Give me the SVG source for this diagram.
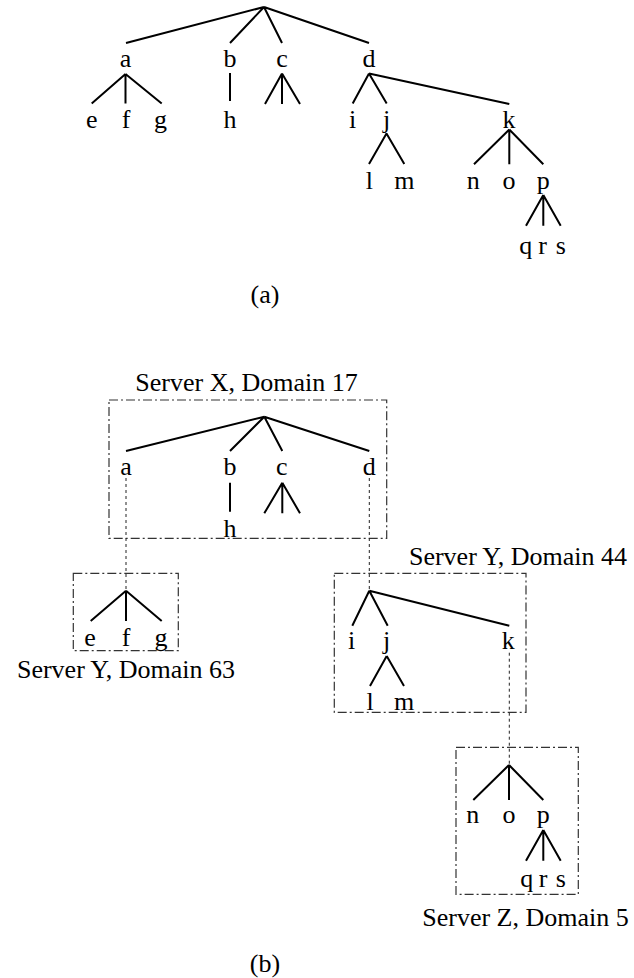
<svg xmlns="http://www.w3.org/2000/svg" width="634" height="978" viewBox="0 0 634 978">
<style>
text{font-family:"Liberation Serif","Times New Roman",serif;font-size:26px;fill:#000;text-anchor:middle}
.e{stroke:#000;stroke-width:2;fill:none;stroke-linecap:butt}
.dot{stroke:#222;stroke-width:1;fill:none;stroke-dasharray:3 3}
.box{stroke:#333;stroke-width:1.2;fill:none;stroke-dasharray:9 3 2 3}
</style>
<rect width="634" height="978" fill="#fff"/>
<!-- Tree (a) -->
<g id="connectors-a">
<path class="e" d="M264,7L126,43M264,7L230,43M264,7L282,43M264,7L369,43"/>
<path class="e" d="M125.5,74L91.7,103.5M125.5,74L125.5,103.5M125.5,74L161.7,103.5"/>
<path class="e" d="M230,73L230,101"/>
<path class="e" d="M282,73.5L265,104M282,73.5L282,104M282,73.5L300,104"/>
<path class="e" d="M369,73.5L352.7,103.5M369,73.5L386.7,103.5M369,73.5L509.3,104"/>
<path class="e" d="M386.5,133.5L369,164M386.5,133.5L404.3,164"/>
<path class="e" d="M509.3,129.5L474,164.3M509.3,129.5L509.3,164.3M509.3,129.5L543.3,164.3"/>
<path class="e" d="M543.3,195L526,225.7M543.3,195L543.3,225.7M543.3,195L560.7,225.7"/>
</g>
<g id="a-a"><text x="125.5" y="67">a</text></g>
<g id="a-b"><text x="230" y="67">b</text></g>
<g id="a-c"><text x="282" y="67">c</text></g>
<g id="a-d"><text x="369" y="67">d</text></g>
<g id="a-e"><text x="91.7" y="128">e</text></g>
<g id="a-f"><text x="126" y="128">f</text></g>
<g id="a-g"><text x="160.5" y="128">g</text></g>
<g id="a-h"><text x="230" y="128">h</text></g>
<g id="a-i"><text x="352.5" y="128">i</text></g>
<g id="a-j"><text x="386.7" y="128">j</text></g>
<g id="a-k"><text x="509" y="128">k</text></g>
<g id="a-l"><text x="369.3" y="189">l</text></g>
<g id="a-m"><text x="404.3" y="189">m</text></g>
<g id="a-n"><text x="473.3" y="189">n</text></g>
<g id="a-o"><text x="509" y="189">o</text></g>
<g id="a-p"><text x="543.3" y="189">p</text></g>
<g id="a-q"><text x="525.7" y="253.5">q</text></g>
<g id="a-r"><text x="542.7" y="253.5">r</text></g>
<g id="a-s"><text x="560.7" y="253.5">s</text></g>
<g id="caption-a"><text x="265" y="303">(a)</text></g>
<!-- Tree (b) -->
<g id="server-x">
<rect class="box" x="109" y="400" width="277.7" height="138.3"/>
<text x="246.5" y="391">Server X, Domain 17</text>
</g>
<g id="server-y63">
<rect class="box" x="73.3" y="573.3" width="105" height="77.4"/>
<text x="126" y="678">Server Y, Domain 63</text>
</g>
<g id="server-y44">
<rect class="box" x="334.3" y="573.3" width="191.7" height="139"/>
<text x="518" y="565">Server Y, Domain 44</text>
</g>
<g id="server-z5">
<rect class="box" x="456" y="747.3" width="122.3" height="147"/>
<text x="525.5" y="926">Server Z, Domain 5</text>
</g>
<g id="connectors-b">
<path class="e" d="M264.3,416.7L126,451M264.3,416.7L230,451M264.3,416.7L282.3,451M264.3,416.7L369.3,451"/>
<path class="e" d="M230,482.7L230,511.7"/>
<path class="e" d="M282.3,482.7L264.3,513.3M282.3,482.7L282.3,513.3M282.3,482.7L300,513.3"/>
<path class="dot" d="M126,478L126,590.7M369.3,478L369.3,590.7"/>
<path class="e" d="M126,590.7L90.7,621M126,590.7L126,621M126,590.7L161.7,621"/>
<path class="e" d="M369.3,590.7L352.3,625.7M369.3,590.7L387.7,625.7M369.3,590.7L509.3,625.7"/>
<path class="e" d="M386.7,656L370,686M386.7,656L404,686"/>
<path class="dot" d="M509.3,652.7L509.3,765"/>
<path class="e" d="M509,765L473.3,800M509,765L509,800M509,765L543.3,800"/>
<path class="e" d="M543.3,830L526,860.7M543.3,830L543.3,860.7M543.3,830L560.7,860.7"/>
</g>
<g id="b-a"><text x="126" y="475">a</text></g>
<g id="b-b"><text x="230" y="475">b</text></g>
<g id="b-c"><text x="281.7" y="475">c</text></g>
<g id="b-d"><text x="369.3" y="475">d</text></g>
<g id="b-h"><text x="230" y="536.7">h</text></g>
<g id="b-e"><text x="90" y="645.7">e</text></g>
<g id="b-f"><text x="126" y="645.7">f</text></g>
<g id="b-g"><text x="161" y="645.7">g</text></g>
<g id="b-i"><text x="351.7" y="649">i</text></g>
<g id="b-j"><text x="386.7" y="649">j</text></g>
<g id="b-k"><text x="508.3" y="649">k</text></g>
<g id="b-l"><text x="370" y="710">l</text></g>
<g id="b-m"><text x="404" y="710">m</text></g>
<g id="b-n"><text x="472.7" y="823.3">n</text></g>
<g id="b-o"><text x="509" y="823.3">o</text></g>
<g id="b-p"><text x="543.3" y="823.3">p</text></g>
<g id="b-q"><text x="526.7" y="886.7">q</text></g>
<g id="b-r"><text x="543" y="886.7">r</text></g>
<g id="b-s"><text x="560.7" y="886.7">s</text></g>
<g id="caption-b"><text x="265" y="972">(b)</text></g>
</svg>
